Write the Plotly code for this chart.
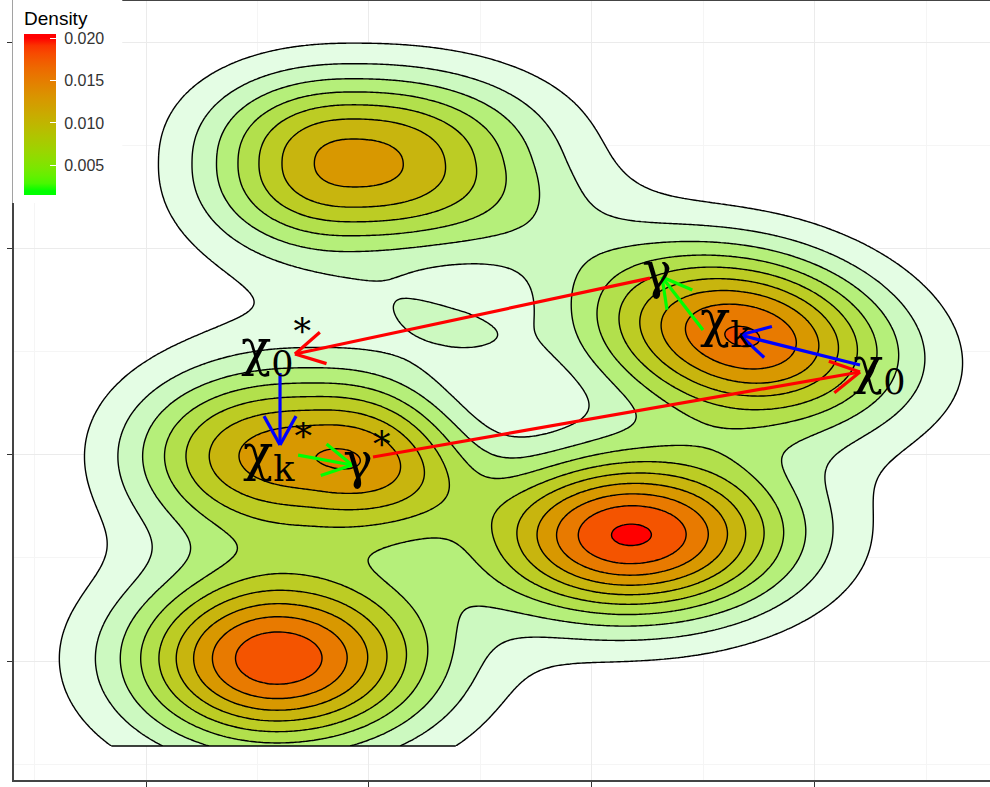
import numpy as np
import plotly.graph_objects as go

# ---------------- data: components of the 2-D density surface (data units) ----------------
# bottom-left, centre, left-middle, left-middle shoulder, top, right, top-right lobe, background, island
comp_x   = [1.587, 3.175, 1.744, 2.229, 1.928, 3.677, 2.767, 1.691, 2.386]
comp_y   = [1.010, 1.611, 1.998, 1.901, 3.418, 2.575, 3.113, 2.701, 2.614]
comp_sxl = [0.457, 0.471, 0.547, 0.247, 0.453, 0.510, 0.314, 0.404, 0.340]   # spread to the left
comp_sxr = [0.493, 0.498, 0.426, 0.247, 0.570, 0.475, 0.314, 0.404, 0.240]   # spread to the right
comp_sy  = [0.305, 0.281, 0.291, 0.194, 0.300, 0.291, 0.218, 0.291, 0.120]
comp_amp = [0.0195, 0.0203, 0.0154, 0.0024, 0.0147, 0.0182, 0.0012, 0.0010, 0.0030]
comp_rot = [0.0, 0.0, 0.0, 0.0, 0.0, -12.0, 0.0, 0.0, -20.0]     # degrees
comp_px  = [1.0, 1.0, 1.3, 1.0, 1.125, 1.0, 1.0, 1.0, 1.0]       # profile exponents
comp_py  = [1.0, 1.0, 1.0, 1.0, 1.125, 1.0, 1.0, 1.0, 1.0]

grid_x_range = [-0.3, 5.3]
grid_y_range = [0.588, 4.7]

# contour levels and band fills (band 0 = below first level)
level_start, level_end, level_step = 0.002, 0.020, 0.002
band_colors = ["rgba(255,255,255,0)", "#e4fde4", "#ccf9c0", "#b5ef7a", "#b2e04c",
               "#bccc24", "#c8b50e", "#d89800", "#e87a00", "#f45400", "#ff0000"]

# colour bar
cbar_ticks = [0.005, 0.010, 0.015, 0.020]
cbar_labels = ["0.005", "0.010", "0.015", "0.020"]
cbar_limits = [0.002, 0.020]

# arrows (data units): start -> end
arrow_x0 = [3.260, 2.018, 1.601, 4.202, 1.682, 3.498]
arrow_y0 = [2.856, 1.989, 2.396, 2.435, 1.998, 2.604]
arrow_x1 = [1.668, 4.202, 1.601, 3.664, 1.924, 3.314]
arrow_y1 = [2.488, 2.401, 2.047, 2.580, 1.950, 2.861]
arrow_col = ["#ff0000", "#ff0000", "#0000ff", "#0000ff", "#00ff00", "#00ff00"]

# labels
label_text = ["χ<sub>0</sub><sup>*</sup>", "χ<sub>k</sub><sup>*</sup>", "γ<sup>*</sup>",
              "γ", "χ<sub>k</sub>", "χ<sub>0</sub>"]
label_x = [1.585, 1.590, 1.991, 3.291, 3.600, 4.290]
label_y = [2.515, 2.010, 1.985, 2.890, 2.640, 2.415]

x_ticks = [1, 2, 3, 4]
y_ticks = [1, 2, 3, 4]
x_minor = [0.5, 1.5, 2.5, 3.5, 4.5]
y_minor = [0.5, 1.5, 2.5, 3.5]
x_range = [0.408, 4.785]
y_range = [0.4233, 4.199]

# ---------------- density grid ----------------
gx = np.linspace(grid_x_range[0], grid_x_range[1], 440)
gy = np.linspace(grid_y_range[0], grid_y_range[1], 340)
XX, YY = np.meshgrid(gx, gy)
Z = np.zeros_like(XX)
for cx, cy, sxl, sxr, sy, a, rot, px, py in zip(comp_x, comp_y, comp_sxl, comp_sxr, comp_sy,
                                                comp_amp, comp_rot, comp_px, comp_py):
    t = np.deg2rad(rot)
    dx, dy = XX - cx, YY - cy
    u = np.cos(t) * dx + np.sin(t) * dy
    v = -np.sin(t) * dx + np.cos(t) * dy
    su = np.where(u < 0, sxl, sxr)
    Z += a * np.exp(-((u / su) ** 2 / 2.0) ** px - ((v / sy) ** 2 / 2.0) ** py)


# ---------------- colours ----------------
def srgb_to_lab(c):
    c = np.array(c, float) / 255.0
    c = np.where(c > 0.04045, ((c + 0.055) / 1.055) ** 2.4, c / 12.92)
    M = np.array([[0.4124, 0.3576, 0.1805], [0.2126, 0.7152, 0.0722], [0.0193, 0.1192, 0.9505]])
    xyz = M @ c / np.array([0.95047, 1.0, 1.08883])
    f = np.where(xyz > 0.008856, np.cbrt(xyz), 7.787 * xyz + 16 / 116)
    return np.array([116 * f[1] - 16, 500 * (f[0] - f[1]), 200 * (f[1] - f[2])])


def lab_to_srgb(lab):
    L, a, b = lab
    fy = (L + 16) / 116
    fx = fy + a / 500
    fz = fy - b / 200
    f = np.array([fx, fy, fz])
    xyz = np.where(f ** 3 > 0.008856, f ** 3, (f - 16 / 116) / 7.787) * np.array([0.95047, 1.0, 1.08883])
    Minv = np.array([[3.2406, -1.5372, -0.4986], [-0.9689, 1.8758, 0.0415], [0.0557, -0.2040, 1.0570]])
    c = Minv @ xyz
    c = np.where(c > 0.0031308, 1.055 * np.clip(c, 0, None) ** (1 / 2.4) - 0.055, 12.92 * c)
    c = np.clip(np.round(c * 255), 0, 255).astype(int)
    return "rgb(%d,%d,%d)" % tuple(c)


lab_lo, lab_hi = srgb_to_lab([0, 255, 0]), srgb_to_lab([255, 0, 0])
inset = 0.025
span = (cbar_limits[1] - cbar_limits[0]) / (1 - 2 * inset)
cmin, cmax = cbar_limits[0] - inset * span, cbar_limits[1] + inset * span
cb_scale = [[0.0, lab_to_srgb(lab_lo)]]
for i in range(21):
    f = i / 20
    cb_scale.append([inset + f * (1 - 2 * inset), lab_to_srgb(lab_lo + f * (lab_hi - lab_lo))])
cb_scale.append([1.0, lab_to_srgb(lab_hi)])

nb = len(band_colors) - 1
fill_scale = []
for k, col in enumerate(band_colors):
    fill_scale.append([max(0.0, (k - 0.5) / nb), col])
    fill_scale.append([min(1.0, (k + 0.5) / nb), col])

fig = go.Figure()
fig.add_trace(go.Contour(
    x=gx, y=gy, z=Z, colorscale=fill_scale, showscale=False,
    contours=dict(start=level_start, end=level_end, size=level_step, coloring="fill", showlines=True),
    line=dict(color="black", width=1.4, smoothing=1), hoverinfo="skip"))

# flat bottom edge of the density polygons (grid limit)
row = Z[0]
inside = np.where(row >= level_start)[0]
if inside.size:
    i0, i1 = inside[0], inside[-1]

    def cross(ia, ib):
        za, zb = row[ia], row[ib]
        return gx[ia] + (level_start - za) / (zb - za) * (gx[ib] - gx[ia])

    xa = cross(i0 - 1, i0) if i0 > 0 else gx[i0]
    xb = cross(i1, i1 + 1) if i1 < len(gx) - 1 else gx[i1]
    fig.add_trace(go.Scatter(x=[xa, xb], y=[gy[0], gy[0]], mode="lines",
                             line=dict(color="black", width=1.6), hoverinfo="skip", showlegend=False))

# arrows with open heads (computed in screen space)
W, H = 990, 787
ml, mr, mt, mb = 14, 0, 1, 7
kx = (W - ml - mr) / (x_range[1] - x_range[0])
ky = (H - mt - mb) / (y_range[1] - y_range[0])
head_len, head_ang = 33.0, np.deg2rad(29)
for x0, y0, x1, y1, col in zip(arrow_x0, arrow_y0, arrow_x1, arrow_y1, arrow_col):
    bx, by = (x0 - x1) * kx, (y0 - y1) * ky
    n = np.hypot(bx, by)
    bx, by = bx / n, by / n
    hx, hy = [], []
    for s in (1, -1):
        ca, sa = np.cos(s * head_ang), np.sin(s * head_ang)
        rx, ry = bx * ca - by * sa, bx * sa + by * ca
        hx += [x1 + rx * head_len / kx, x1, None]
        hy += [y1 + ry * head_len / ky, y1, None]
    fig.add_trace(go.Scatter(x=[x0, x1, None] + hx, y=[y0, y1, None] + hy, mode="lines",
                             line=dict(color=col, width=3.2), hoverinfo="skip", showlegend=False))

# colour bar
cbar = dict(
    title=dict(text="Density", side="top", font=dict(size=19, color="black", family="Liberation Sans")),
    x=-0.0015, xanchor="left", xpad=11.5, y=1.0013, yanchor="top", ypad=8,
    thickness=32, len=203, lenmode="pixels", outlinewidth=0,
    bgcolor="white", tickvals=cbar_ticks, ticktext=["\u00a0" + s for s in cbar_labels],
    ticks="inside", ticklen=6, tickcolor="white", tickwidth=1,
    tickfont=dict(size=16, color="#333333", family="Liberation Sans"))
fig.add_trace(go.Scatter(
    x=[None], y=[None], mode="markers", showlegend=False, hoverinfo="skip",
    marker=dict(color=[cbar_limits[0]], cmin=cmin, cmax=cmax, colorscale=cb_scale,
                showscale=True, colorbar=cbar)))

for t, x, y in zip(label_text, label_x, label_y):
    fig.add_annotation(x=x, y=y, text=t, showarrow=False, xanchor="center", yanchor="middle",
                       font=dict(size=50, color="black", family="DejaVu Serif"))

axis_common = dict(showticklabels=False, ticks="outside", tickcolor="#333333", tickwidth=1.2,
                   showgrid=True, gridcolor="#ebebeb", gridwidth=1.2, zeroline=False,
                   showline=True, linecolor="#444444", linewidth=1.6)
fig.update_xaxes(range=x_range, tickvals=x_ticks, ticklen=7, mirror=True,
                 minor=dict(tickvals=x_minor, showgrid=True, gridcolor="#f5f5f5", gridwidth=0.7, ticks=""),
                 **axis_common)
fig.update_yaxes(range=y_range, tickvals=y_ticks, ticklen=5, mirror=False,
                 minor=dict(tickvals=y_minor, showgrid=True, gridcolor="#f5f5f5", gridwidth=0.7, ticks=""),
                 **axis_common)
fig.update_layout(width=W, height=H, autosize=False, margin=dict(l=ml, r=mr, t=mt, b=mb, pad=0),
                  paper_bgcolor="white", plot_bgcolor="white", showlegend=False)
fig.write_html("out.html", config={"displayModeBar": False},
               post_script="document.body.style.margin='0px';")
